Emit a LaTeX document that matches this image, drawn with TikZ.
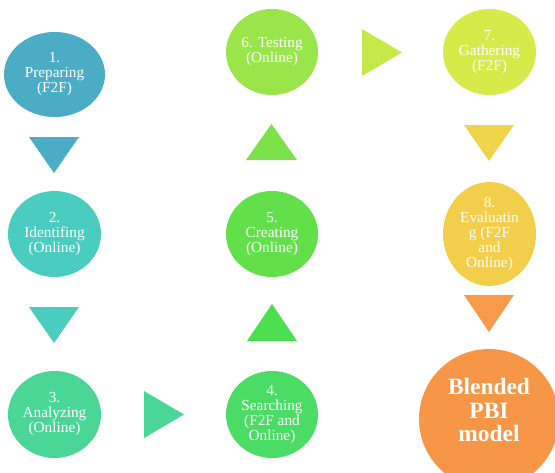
\documentclass[tikz,border=0pt]{standalone}
\usepackage{fontspec}
\setmainfont{Liberation Serif}
\usetikzlibrary{shapes.geometric}
\definecolor{cA}{RGB}{75,172,198}
\definecolor{cB}{RGB}{74,205,190}
\definecolor{cC}{RGB}{74,214,150}
\definecolor{cD}{RGB}{74,220,100}
\definecolor{cDE}{RGB}{75,223,79}
\definecolor{cE}{RGB}{98,224,74}
\definecolor{cEF}{RGB}{124,226,74}
\definecolor{cF}{RGB}{154,230,74}
\definecolor{cFG}{RGB}{196,234,74}
\definecolor{cG}{RGB}{214,234,74}
\definecolor{cGH}{RGB}{240,212,74}
\definecolor{cH}{RGB}{242,206,74}
\definecolor{cHI}{RGB}{247,154,74}
\definecolor{cI}{RGB}{247,150,70}
\begin{document}
\begin{tikzpicture}[x=1pt,y=-1pt,
  stage/.style={ellipse, inner sep=0pt, text=white, align=center,
    minimum width=93pt, minimum height=86pt,
    font=\fontsize{15.3}{15}\selectfont},
  final/.style={circle, inner sep=0pt, minimum size=140pt},
  finaltext/.style={inner sep=0pt, text=white, align=center,
    font=\fontsize{23.4}{23.5}\selectfont\bfseries}]
\useasboundingbox (0,0) rectangle (555,472);
% nodes
\node[stage, fill=cA, minimum width=101pt, minimum height=85pt] (n1) at (54.5,74.5) {1.\\Preparing\\(F2F)};
\node[stage, fill=cB] (n2) at (54.5,234) {2.\\Identifing\\(Online)};
\node[stage, fill=cC, minimum height=87pt] (n3) at (54.5,414.5) {3.\\Analyzing\\(Online)};
\node[stage, fill=cD, minimum width=92pt, minimum height=87pt] (n4) at (272,414.5) {4.\\Searching\\(F2F and\\Online)};
\node[stage, fill=cE, minimum width=92pt] (n5) at (272,234) {5.\\Creating\\(Online)};
\node[stage, fill=cF, minimum width=92pt] (n6) at (272,52) {6. Testing\\(Online)};
\node[stage, fill=cG] (n7) at (489.5,52) {7.\\Gathering\\(F2F)};
\node[stage, fill=cH] (n8) at (489.5,234) {8.\\Evaluatin\\g (F2F\\and\\Online)};
\node[final, fill=cI] (n9) at (489,419) {};
\node[finaltext] (n9t) at (489,410) {Blended\\PBI\\model};
% triangle arrows
\fill[cA]  (29,137) -- (79,137) -- (54,173) -- cycle;
\fill[cB]  (29,307) -- (79,307) -- (54,343) -- cycle;
\fill[cC]  (144,391) -- (184,414.5) -- (144,438) -- cycle;
\fill[cDE] (247,341) -- (297,341) -- (272,304) -- cycle;
\fill[cEF] (246,160) -- (297,160) -- (271.5,124) -- cycle;
\fill[cFG] (362,29) -- (402,52.5) -- (362,76) -- cycle;
\fill[cGH] (464,125) -- (514,125) -- (489,161) -- cycle;
\fill[cHI] (464,295) -- (514,295) -- (489,332) -- cycle;
\end{tikzpicture}
\end{document}
